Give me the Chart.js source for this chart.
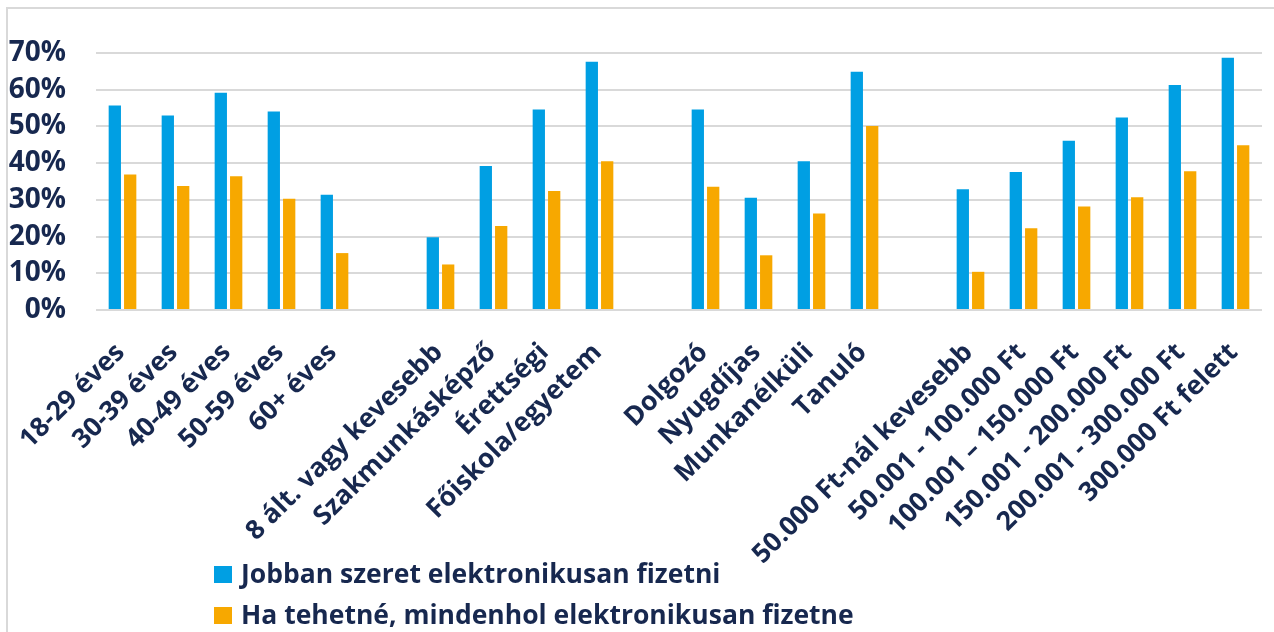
<!DOCTYPE html>
<html><head><meta charset="utf-8">
<script src="https://cdn.jsdelivr.net/npm/chart.js@4.4.0/dist/chart.umd.min.js"></script>
<style>
html,body{margin:0;padding:0;background:#fff;width:1274px;height:632px;overflow:hidden}
#wrap{position:relative;width:1274px;height:632px}
#frame{position:absolute;left:6px;top:7px;width:1300px;height:700px;border-left:2px solid #d9d9d9;border-top:2px solid #d9d9d9}
canvas{position:absolute;left:0;top:0}
.leg{position:absolute;left:214px;font-family:"Open Sans",sans-serif;font-weight:bold;font-size:26.5px;color:#17284f;white-space:nowrap;height:17px;line-height:17px}
.sw{position:absolute;left:0;top:0;width:18px;height:17px}
.tx{position:absolute;left:27px;top:-1px}
</style></head>
<body>
<div id="wrap">
<div id="frame"></div>
<canvas id="c" width="1274" height="632"></canvas>
<div class="leg" style="top:566px"><span class="sw" id="s1"></span><span class="tx" id="t1"></span></div>
<div class="leg" style="top:607px"><span class="sw" id="s2"></span><span class="tx" id="t2"></span></div>
</div>
<script>
// categories (empty strings are the gaps between groups)
const categories = ['18-29 éves','30-39 éves','40-49 éves','50-59 éves','60+ éves','',
  '8 ált. vagy kevesebb','Szakmunkásképző','Érettségi','Főiskola/egyetem','',
  'Dolgozó','Nyugdíjas','Munkanélküli','Tanuló','',
  '50.000 Ft-nál kevesebb','50.001 - 100.000 Ft','100.001 – 150.000 Ft','150.001 - 200.000 Ft','200.001 - 300.000 Ft','300.000 Ft felett'];
const seriesNames = ['Jobban szeret elektronikusan fizetni','Ha tehetné, mindenhol elektronikusan fizetne'];
const electronicPref = [55.7,53.0,59.2,54.1,31.4,null,19.8,39.2,54.6,67.6,null,54.6,30.6,40.5,64.9,null,32.9,37.6,46.1,52.4,61.3,68.7];
const electronicAll  = [36.9,33.8,36.4,30.3,15.5,null,12.4,22.9,32.4,40.5,null,33.6,14.9,26.3,50.1,null,10.4,22.3,28.2,30.7,37.8,44.9];
const yTicks = [0,10,20,30,40,50,60,70];
const colors = ['#009FE3','#F7A800'];
const textColor = '#17284f';

document.getElementById('s1').style.background = colors[0];
document.getElementById('s2').style.background = colors[1];
document.getElementById('t1').textContent = seriesNames[0];
document.getElementById('t2').textContent = seriesNames[1];

new Chart(document.getElementById('c'), {
  type: 'bar',
  data: {
    labels: categories,
    datasets: [
      {label: seriesNames[0], data: electronicPref, backgroundColor: colors[0]},
      {label: seriesNames[1], data: electronicAll, backgroundColor: colors[1]}
    ]
  },
  options: {
    responsive: false,
    animation: false,
    layout: {padding: {left: 0, right: 12, top: 53, bottom: 0}},
    datasets: {bar: {categoryPercentage: 0.58, barPercentage: 0.8}},
    plugins: {legend: {display: false}, tooltip: {enabled: false}},
    scales: {
      x: {
        offset: true,
        grid: {display: false, drawTicks: false}, border: {display: false},
        ticks: {autoSkip: false, minRotation: 45, maxRotation: 45, padding: 27, labelOffset: -2,
          color: textColor, font: {family: 'Open Sans', weight: 'bold', size: 26.5}},
        afterFit: s => { s.height = 322; s.paddingLeft = 0; s.paddingRight = 0; }
      },
      y: {
        min: 0, max: 70,
        afterBuildTicks: s => { s.ticks = yTicks.map(v => ({value: v})); },
        grid: {color: '#d9d9d9', lineWidth: 2, drawTicks: false},
        border: {display: false},
        ticks: {padding: 30, color: textColor, font: {family: 'Open Sans', weight: 'bold', size: 28},
          callback: v => v + '%'},
        afterFit: s => { s.width = 96; s.paddingTop = 0; s.paddingBottom = 0; }
      }
    }
  }
});
</script>
</body></html>
